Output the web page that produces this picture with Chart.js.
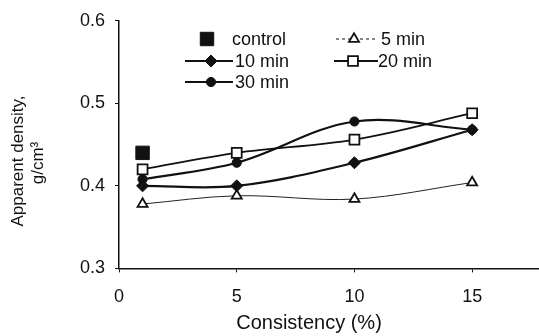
<!DOCTYPE html>
<html>
<head>
<meta charset="utf-8">
<script src="https://cdn.jsdelivr.net/npm/chart.js@4"></script>
<style>
  html, body { margin: 0; padding: 0; background: #fff; }
  #wrap { width: 539px; height: 336px; }
</style>
</head>
<body>
<div id="wrap"><canvas id="chart" width="539" height="336"></canvas></div>
<script>
// --------------------------------------------------------------------------
// DATA
// --------------------------------------------------------------------------
const consistency = [1, 5, 10, 15];
const control = [0.44];
const min5 = [0.378, 0.388, 0.384, 0.404];
const min10 = [0.40, 0.40, 0.428, 0.468];
const min20 = [0.42, 0.44, 0.456, 0.488];
const min30 = [0.408, 0.428, 0.478, 0.468];
const xTicks = [0, 5, 10, 15];
const yTicks = [0.3, 0.4, 0.5, 0.6];

const FONT = '"Liberation Sans", Arial, sans-serif';
const INK = '#111';

function toPoints(values) {
    return values.map((v, i) => ({ x: consistency[i], y: v }));
}

// --------------------------------------------------------------------------
// LEGEND (inside the plot, two columns like the printed figure)
// --------------------------------------------------------------------------
const legendItems = [
    { label: 'control', ds: 0, x0: 0,   x1: 0,   mx: 207, tx: 232, y: 39 },
    { label: '5 min',   ds: 1, x0: 336, x1: 376, mx: 354, tx: 381, y: 39, dash: [3, 3] },
    { label: '10 min',  ds: 2, x0: 185, x1: 233, mx: 211, tx: 235, y: 61 },
    { label: '20 min',  ds: 3, x0: 334, x1: 378, mx: 353, tx: 378, y: 61 },
    { label: '30 min',  ds: 4, x0: 185, x1: 233, mx: 211, tx: 235, y: 82 },
];

const insideLegend = {
    id: 'insideLegend',
    afterDraw(chart) {
        const ctx = chart.ctx;
        ctx.save();
        ctx.font = '18px ' + FONT;
        ctx.textBaseline = 'middle';
        legendItems.forEach(it => {
            const ds = chart.data.datasets[it.ds];
            if (it.x1 > it.x0) {
                ctx.beginPath();
                ctx.strokeStyle = INK;
                ctx.lineWidth = ds.borderWidth;
                ctx.setLineDash(it.dash || []);
                ctx.moveTo(it.x0, it.y);
                ctx.lineTo(it.x1, it.y);
                ctx.stroke();
                ctx.setLineDash([]);
            }
            ctx.fillStyle = ds.pointBackgroundColor;
            ctx.strokeStyle = ds.pointBorderColor;
            ctx.lineWidth = ds.pointBorderWidth;
            Chart.helpers.drawPoint(ctx, { pointStyle: ds.pointStyle, radius: ds.pointRadius, borderWidth: ds.pointBorderWidth }, it.mx, it.y);
            ctx.fillStyle = INK;
            ctx.fillText(it.label, it.tx, it.y + 1);
        });
        ctx.restore();
    }
};

// axis titles sit off-centre in the original, so they are placed by hand
const axisTitles = {
    id: 'axisTitles',
    afterDraw(chart) {
        const ctx = chart.ctx;
        ctx.save();
        ctx.fillStyle = INK;
        ctx.textAlign = 'center';
        ctx.textBaseline = 'middle';
        ctx.font = '20px ' + FONT;
        ctx.fillText('Consistency (%)', 309, 323);
        ctx.font = '17px ' + FONT;
        ctx.translate(18, 161);
        ctx.rotate(-Math.PI / 2);
        ctx.fillText('Apparent density,', 0, 0);
        ctx.fillText('g/cm\u00b3', -2, 20);
        ctx.restore();
    }
};

new Chart(document.getElementById('chart'), {
    type: 'line',
    data: {
        datasets: [
            {
                label: 'control', data: toPoints(control), showLine: false,
                pointStyle: 'rect', pointRadius: 9.5, pointBackgroundColor: INK, pointBorderColor: INK,
                borderColor: INK, borderWidth: 1.5, pointBorderWidth: 1,
            },
            {
                label: '5 min', data: toPoints(min5), tension: 0.35,
                borderColor: '#222', borderWidth: 1,
                pointStyle: 'triangle', pointRadius: 5.8, pointBackgroundColor: '#fff', pointBorderColor: INK, pointBorderWidth: 1.8,
            },
            {
                label: '10 min', data: toPoints(min10), tension: 0.35,
                borderColor: INK, borderWidth: 2.2,
                pointStyle: 'rectRot', pointRadius: 6, pointBackgroundColor: INK, pointBorderColor: INK, pointBorderWidth: 1,
            },
            {
                label: '20 min', data: toPoints(min20), tension: 0.35,
                borderColor: INK, borderWidth: 1.8,
                pointStyle: 'rect', pointRadius: 7, pointBackgroundColor: '#fff', pointBorderColor: INK, pointBorderWidth: 1.8,
            },
            {
                label: '30 min', data: toPoints(min30), tension: 0.35,
                borderColor: INK, borderWidth: 2.2,
                pointStyle: 'circle', pointRadius: 4.6, pointBackgroundColor: INK, pointBorderColor: INK, pointBorderWidth: 1,
            },
        ]
    },
    options: {
        responsive: false,
        animation: false,
        layout: { autoPadding: false, padding: { left: 70, right: 0, top: 16, bottom: 14 } },
        plugins: {
            legend: { display: false },
            tooltip: { enabled: false },
        },
        scales: {
            x: {
                type: 'linear', min: 0, max: 17.84,
                afterBuildTicks: axis => { axis.ticks = xTicks.map(v => ({ value: v })); },
                grid: { drawOnChartArea: false, tickLength: 4, color: INK },
                border: { color: INK, width: 1.5 },
                ticks: { color: INK, font: { family: FONT, size: 18 }, padding: 14 },
            },
            y: {
                min: 0.3, max: 0.6,
                afterBuildTicks: axis => { axis.ticks = yTicks.map(v => ({ value: v })); },
                grid: { drawOnChartArea: false, tickLength: 4, color: INK },
                border: { color: INK, width: 1.5 },
                ticks: { color: INK, font: { family: FONT, size: 18 }, padding: 10, callback: v => v.toFixed(1) },
            }
        }
    },
    plugins: [insideLegend, axisTitles]
});
</script>
</body>
</html>
